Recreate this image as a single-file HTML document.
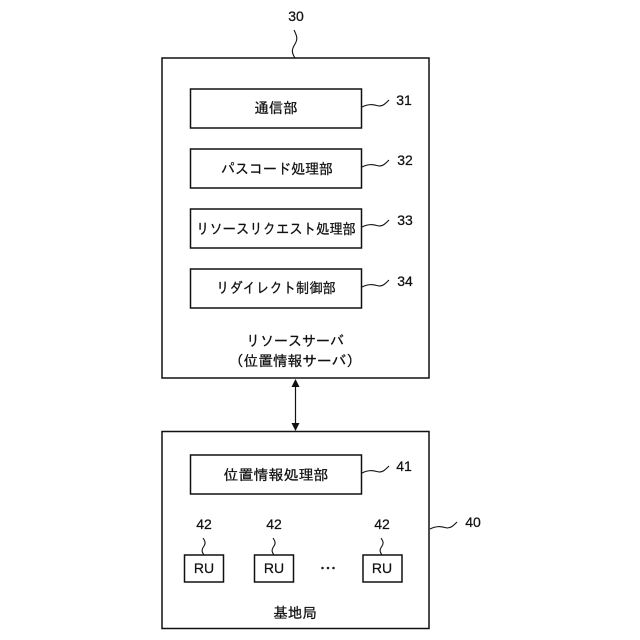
<!DOCTYPE html>
<html><head><meta charset="utf-8"><style>
html,body{margin:0;padding:0;background:#fff}
svg{display:block}
text{font-family:"Liberation Sans","IPAGothic","Noto Sans CJK JP",sans-serif;fill:#111;text-anchor:middle;stroke:#111;stroke-width:.25}
.j{font-size:14.5px}
.n{font-size:14px}
rect{fill:#fff;stroke:#111;stroke-width:1.5}
path{fill:none;stroke:#111;stroke-width:1.1}
</style></head><body>
<svg width="640" height="640" viewBox="0 0 640 640" xmlns="http://www.w3.org/2000/svg">
<rect x="162" y="58" width="267" height="320"/>
<rect x="190.500" y="89" width="171" height="39"/>
<rect x="190.500" y="149" width="171" height="39"/>
<rect x="190.500" y="209" width="171" height="39"/>
<rect x="190.500" y="269" width="171" height="39"/>
<rect x="162" y="431.500" width="267" height="197"/>
<rect x="190.500" y="455" width="171" height="39"/>
<rect x="184.500" y="555" width="39" height="27"/>
<rect x="254.500" y="555" width="39" height="27"/>
<rect x="363" y="555" width="39" height="27"/>

<text class="n" x="296" y="21">30</text>
<path d="M295 58c-4-6-3-9 0-14c3-5 2-8-1-14"/>

<text class="j" x="276" y="113">通信部</text>
<text class="j" x="277" y="174" textLength="112" lengthAdjust="spacingAndGlyphs">パスコード処理部</text>
<text class="j" x="276" y="234" textLength="160" lengthAdjust="spacingAndGlyphs">リソースリクエスト処理部</text>
<text class="j" x="276" y="293" textLength="120" lengthAdjust="spacingAndGlyphs">リダイレクト制御部</text>
<text class="j" x="295" y="346" textLength="98" lengthAdjust="spacingAndGlyphs">リソースサーバ</text>
<text class="j" x="295" y="366" textLength="132" lengthAdjust="spacingAndGlyphs">（位置情報サーバ）</text>
<text class="j" x="276" y="480" textLength="105" lengthAdjust="spacingAndGlyphs">位置情報処理部</text>
<text class="j" x="295" y="618">基地局</text>

<path d="M362 107c8-4 12-2 17-1c4 0 6-2 10-6"/>
<path d="M362 167c8-4 12-2 17-1c4 0 6-2 10-6"/>
<path d="M362 227c8-4 12-2 17-1c4 0 6-2 10-6"/>
<path d="M362 287c8-4 12-2 17-1c4 0 6-2 10-6"/>
<path d="M362 473c8-4 12-2 17-1c4 0 6-2 10-6"/>
<path d="M430 529c8-4 12-2 17-1c4 0 6-2 10-6"/>

<text class="n" x="404" y="105">31</text>
<text class="n" x="405" y="165">32</text>
<text class="n" x="405" y="225">33</text>
<text class="n" x="405" y="286">34</text>
<text class="n" x="404" y="471">41</text>
<text class="n" x="473" y="527">40</text>

<text class="n" x="204" y="529">42</text>
<text class="n" x="274" y="529">42</text>
<text class="n" x="382" y="529">42</text>
<path d="M204 555c-3-4-2-6 0-9c2-3 1-5-1-8"/>
<path d="M274 555c-3-4-2-6 0-9c2-3 1-5-1-8"/>
<path d="M382 555c-3-4-2-6 0-9c2-3 1-5-1-8"/>

<text class="n" x="204" y="573">RU</text>
<text class="n" x="274" y="573">RU</text>
<text class="n" x="382" y="573">RU</text>
<circle cx="322.500" cy="568" r="1.300" fill="#222"/>
<circle cx="328" cy="568" r="1.300" fill="#222"/>
<circle cx="333.500" cy="568" r="1.300" fill="#222"/>

<path d="M295.500 386V423" style="stroke-width:1.2"/>
<polygon points="295.500,379 291.500,387 299.500,387" fill="#111"/>
<polygon points="295.500,431 291.500,423 299.500,423" fill="#111"/>
</svg>
</body></html>
